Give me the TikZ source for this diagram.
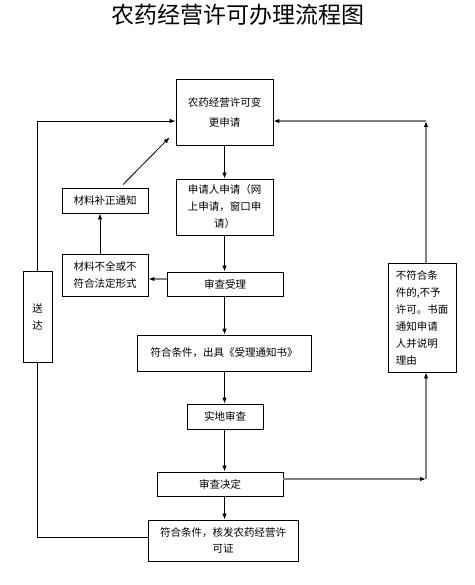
\documentclass[tikz,border=0pt]{standalone}
\usepackage{fontspec}
\setmainfont{Noto Sans CJK SC}
\usetikzlibrary{calc,arrows.meta}
\tikzset{
	box/.style={draw, line width=0.8pt, align=center, inner sep=0pt, font=\fontsize{10.5}{17}\selectfont},
	link/.style={line width=0.8pt, -{Latex[length=6pt,width=4.5pt]}},
	plain/.style={line width=0.8pt},
	greylink/.style={draw=black!50, line width=1.3pt, -{Latex[length=6pt,width=4.5pt,color=black]}}
}
\begin{document}
\begin{tikzpicture}[x=1pt,y=-1pt]
			%%%%% START %%%%%
			\useasboundingbox (0,0) rectangle (474,585);
			
			\node[font=\fontsize{23}{27}\selectfont] (title) at (238,15) {农药经营许可办理流程图};
			
			\node[box, minimum width=97pt, minimum height=66pt, font=\fontsize{10.5}{20}\selectfont] (apply) at (224.5,112) {农药经营许可变\\更申请};
			\node[box, minimum width=97pt, minimum height=56pt] (online) at (224.5,207) {申请人申请（网\\上申请，窗口申\\请）};
			\node[box, minimum width=116pt, minimum height=24pt] (accept) at (225,284) {审查受理};
			\node[box, minimum width=174pt, minimum height=36pt] (notice) at (224,353) {符合条件，出具《受理通知书》};
			\node[box, minimum width=76pt, minimum height=25pt] (check) at (225,416.5) {实地审查};
			\node[box, minimum width=126pt, minimum height=24pt] (decide) at (220,484) {审查决定};
			\node[box, minimum width=150pt, minimum height=41pt, font=\fontsize{10.5}{16}\selectfont] (issue) at (223,540.5) {符合条件，核发农药经营许\\可证};
			
			\node[box, minimum width=86pt, minimum height=25pt] (fix) at (105,200.5) {材料补正通知};
			\node[box, minimum width=86pt, minimum height=42pt] (lack) at (105,275) {材料不全或不\\符合法定形式};
			\node[box, minimum width=29pt, minimum height=91pt] (deliver) at (37.5,316.5) {送\\达};
			\node[box, minimum width=68pt, minimum height=109pt, align=left] (refuse) at (422,317.5) {不符合条\\件的,不予\\许可。书面\\通知申请\\人并说明\\理由};
			
			% main line
			\draw[link] (apply) -- (online);
			\draw[link] (online.south) -- (online.south |- accept.north);
			\draw[link] (online.south |- accept.south) -- (online.south |- notice.north);
			\draw[link] (online.south |- notice.south) -- (online.south |- check.north);
			\draw[link] (online.south |- check.south) -- (online.south |- decide.north);
			\draw[link] (online.south |- decide.south) -- (online.south |- issue.north);
			
			% back to the application
			\draw[greylink] ($(accept.west)+(0,-5)$) -- ($(accept.west -| lack.east)+(0,-5)$);
			\draw[link] ($(lack.north)+(-5,0)$) -- ($(fix.south)+(-5,0)$);
			\draw[link] ($(fix.north)+(18,-3)$) -- ($(apply.south west)+(-6,-8)$);
			
			\coordinate (applyin) at ($(apply.west)+(0,9)$);
			\coordinate (applyout) at ($(apply.east)+(0,9)$);
			\draw[plain] ($(issue.west)+(0,-3)$) -| (deliver.south);
			\draw[link] (deliver.north) |- (applyin);
			
			% refusal
			\coordinate (rightdown) at (426,479);
			\coordinate (rightup) at (426,121);
			\draw[greylink] (decide.east |- rightdown) -- (rightdown);
			\draw[greylink] (rightdown) -- (rightdown |- refuse.south);
			\draw[greylink] (rightup |- refuse.north) -- (rightup);
			\draw[greylink] (rightup) -- (applyout);
			%%%%% END %%%%%
\end{tikzpicture}
\end{document}
